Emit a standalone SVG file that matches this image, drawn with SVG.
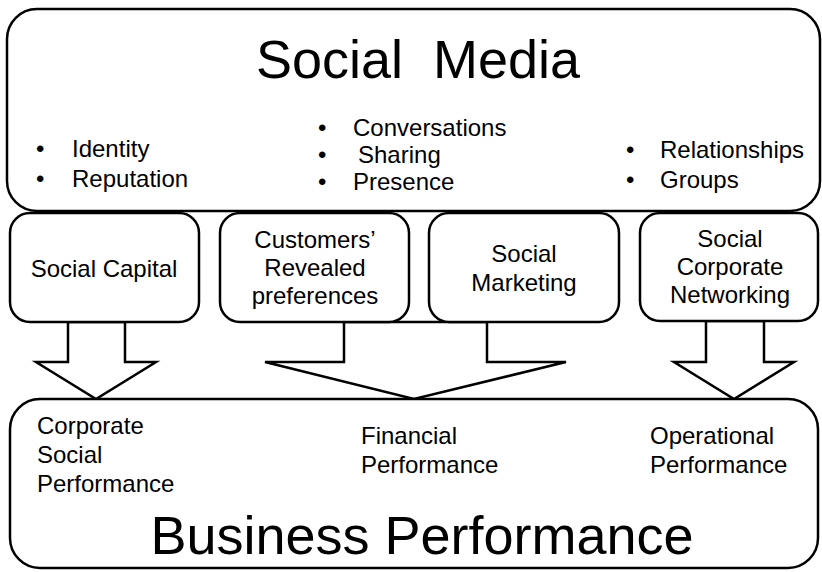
<svg xmlns="http://www.w3.org/2000/svg" width="822" height="572" viewBox="0 0 822 572">
<style>
.box{fill:#fff;stroke:#000;stroke-width:2.5}
.arr{fill:#fff;stroke:#000;stroke-width:2.5;stroke-linejoin:miter}
text{font-family:"Liberation Sans",Arial,sans-serif;fill:#000}
.s{font-size:24px}
.big{font-size:54px}
.c{text-anchor:middle}
</style>
<rect width="822" height="572" fill="#fff"/>
<g id="social-media">
<rect class="box" x="7" y="9" width="813" height="202" rx="30"/>
<text class="big c" x="418" y="78" xml:space="preserve">Social  Media</text>
<text class="s" x="36" y="157">•</text><text class="s" x="72" y="157">Identity</text>
<text class="s" x="36" y="187">•</text><text class="s" x="72" y="187">Reputation</text>
<text class="s" x="318" y="136">•</text><text class="s" x="353" y="136">Conversations</text>
<text class="s" x="318" y="163">•</text><text class="s" x="358" y="163">Sharing</text>
<text class="s" x="318" y="190">•</text><text class="s" x="353" y="190">Presence</text>
<text class="s" x="626" y="158">•</text><text class="s" x="660" y="158">Relationships</text>
<text class="s" x="626" y="188">•</text><text class="s" x="660" y="188">Groups</text>
</g>
<g id="connectors">
<polygon class="arr" points="68,322 125,322 125,362 156,362 96,399 36,362 68,362"/>
<polygon class="arr" points="344,322 487,322 487,362 566,362 414,399 265,362 344,362"/>
<polygon class="arr" points="706,321 764,321 764,362 794,362 734,399 674,362 706,362"/>
</g>
<g id="social-capital">
<rect class="box" x="10" y="213" width="189" height="109" rx="20"/>
<text class="s c" x="104" y="277">Social Capital</text>
</g>
<g id="customers-revealed-preferences">
<rect class="box" x="220" y="213" width="189" height="109" rx="20"/>
<text class="s c" x="315" y="248">Customers’</text>
<text class="s c" x="315" y="276">Revealed</text>
<text class="s c" x="315" y="304">preferences</text>
</g>
<g id="social-marketing">
<rect class="box" x="429" y="213" width="190" height="109" rx="20"/>
<text class="s c" x="524" y="262">Social</text>
<text class="s c" x="524" y="291">Marketing</text>
</g>
<g id="social-corporate-networking">
<rect class="box" x="640" y="213" width="178" height="108" rx="20"/>
<text class="s c" x="730" y="247">Social</text>
<text class="s c" x="730" y="275">Corporate</text>
<text class="s c" x="730" y="303">Networking</text>
</g>
<g id="business-performance">
<rect class="box" x="10" y="399" width="808" height="169" rx="30"/>
<text class="s" x="37" y="434">Corporate</text>
<text class="s" x="37" y="463">Social</text>
<text class="s" x="37" y="492">Performance</text>
<text class="s" x="361" y="444">Financial</text>
<text class="s" x="361" y="473">Performance</text>
<text class="s" x="650" y="444">Operational</text>
<text class="s" x="650" y="473">Performance</text>
<text class="big c" x="422" y="554">Business Performance</text>
</g>
</svg>
